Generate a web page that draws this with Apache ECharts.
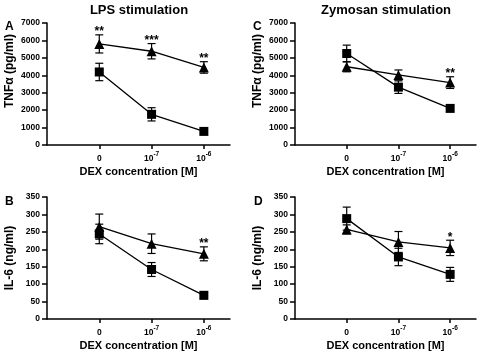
<!DOCTYPE html>
<html>
<head>
<meta charset="utf-8">
<script src="https://cdn.jsdelivr.net/npm/echarts@6/dist/echarts.min.js"></script>
<style>
  html, body { margin: 0; padding: 0; background: #fff; }
  #main { width: 478px; height: 354px; }
</style>
</head>
<body>
<div id="main"></div>
<script>
// x positions 0,1,2 = DEX 0, 10^-7, 10^-6 M
var dexPos = [0, 1, 2];
var dexExp = ['', '-7', '-6'];

// A: LPS, TNFa (pg/ml)
var lpsTnfTri = [5800, 5380, 4450];
var lpsTnfTriErr = [520, 440, 330];
var lpsTnfSq = [4190, 1760, 780];
var lpsTnfSqErr = [500, 380, 100];
var lpsTnfStars = ['**', '***', '**'];

// C: Zymosan, TNFa (pg/ml)
var zymTnfTri = [4490, 4020, 3580];
var zymTnfTriErr = [290, 285, 335];
var zymTnfSq = [5250, 3320, 2100];
var zymTnfSqErr = [480, 360, 150];
var zymTnfStars = ['', '', '**'];

// B: LPS, IL-6 (ng/ml)
var lpsIl6Tri = [265, 216, 187];
var lpsIl6TriErr = [36, 28, 20];
var lpsIl6Sq = [244, 142, 68];
var lpsIl6SqErr = [28, 20, 10];
var lpsIl6Stars = ['', '', '**'];

// D: Zymosan, IL-6 (ng/ml)
var zymIl6Tri = [257, 221, 204];
var zymIl6TriErr = [13, 30, 22];
var zymIl6Sq = [288, 178, 128];
var zymIl6SqErr = [33, 25, 20];
var zymIl6Stars = ['', '', '*'];

var font = 'Liberation Sans, Arial, sans-serif';
var chart = echarts.init(document.getElementById('main'));

var grids = [
    {left: 47, top: 23, width: 183, height: 122},
    {left: 295, top: 23, width: 181, height: 122},
    {left: 47, top: 197, width: 183, height: 122},
    {left: 295, top: 197, width: 181, height: 122}
];

function xAxisFor(i) {
    return {
        type: 'value', gridIndex: i, min: -1, max: 2.5,
        name: 'DEX concentration [M]', nameLocation: 'middle', nameGap: 21,
        nameTextStyle: {fontFamily: font, fontWeight: 'bold', fontSize: 11, color: '#000'},
        axisLine: {onZero: false, lineStyle: {color: '#000', width: 1.5}},
        axisTick: {customValues: dexPos, length: 4, lineStyle: {color: '#000', width: 1.5}},
        axisLabel: {
            customValues: dexPos, margin: 6, color: '#000',
            formatter: function (v) {
                var k = Math.round(v);
                return k === 0 ? '{b|0}' : '{b|10}{s|' + dexExp[k] + '}';
            },
            rich: {
                b: {fontFamily: font, fontWeight: 'bold', fontSize: 8.5, lineHeight: 12, verticalAlign: 'bottom', color: '#000'},
                s: {fontFamily: font, fontWeight: 'bold', fontSize: 6.5, lineHeight: 6, verticalAlign: 'top', color: '#000'}
            }
        },
        splitLine: {show: false}
    };
}

function yAxisFor(i, max, step, name, shift) {
    return {
        type: 'value', gridIndex: i, min: 0, max: max, interval: step,
        name: name, nameLocation: 'middle', nameGap: 31,
        nameTextStyle: {fontFamily: font, fontWeight: 'bold', fontSize: 12, color: '#000', padding: [0, 0, 0, shift]},
        axisLine: {show: true, onZero: false, lineStyle: {color: '#000', width: 1.5}},
        axisTick: {show: true, length: 5, lineStyle: {color: '#000', width: 1.5}},
        axisLabel: {
            fontFamily: font, fontWeight: 'bold', fontSize: 8.5, color: '#000', margin: 7,
            formatter: function (v) { return String(v); }
        },
        splitLine: {show: false}
    };
}

function pts(vals) {
    return vals.map(function (v, k) { return [dexPos[k], v]; });
}

function lineSeries(i, vals, sym, size) {
    return {
        type: 'line', xAxisIndex: i, yAxisIndex: i, data: pts(vals),
        symbol: sym, symbolSize: size, z: 3,
        itemStyle: {color: '#000'}, lineStyle: {color: '#000', width: 1.3}
    };
}

function errSeries(i, vals, errs) {
    return {
        type: 'custom', xAxisIndex: i, yAxisIndex: i, z: 2,
        data: vals.map(function (v, k) { return [dexPos[k], v - errs[k], v + errs[k]]; }),
        renderItem: function (params, api) {
            var lo = api.coord([api.value(0), api.value(1)]);
            var hi = api.coord([api.value(0), api.value(2)]);
            var w = 4;
            var st = {stroke: '#000', lineWidth: 1.2};
            return {type: 'group', children: [
                {type: 'line', shape: {x1: lo[0], y1: lo[1], x2: hi[0], y2: hi[1]}, style: st},
                {type: 'line', shape: {x1: lo[0] - w, y1: lo[1], x2: lo[0] + w, y2: lo[1]}, style: st},
                {type: 'line', shape: {x1: hi[0] - w, y1: hi[1], x2: hi[0] + w, y2: hi[1]}, style: st}
            ]};
        }
    };
}

function starSeries(i, vals, errs, stars) {
    return {
        type: 'custom', xAxisIndex: i, yAxisIndex: i, z: 4,
        data: vals.map(function (v, k) { return [dexPos[k], v + errs[k], stars[k]]; }),
        renderItem: function (params, api) {
            var p = api.coord([api.value(0), api.value(1)]);
            return {type: 'text', style: {
                x: p[0], y: p[1] + 3, text: stars[params.dataIndex],
                textAlign: 'center', textVerticalAlign: 'bottom',
                font: 'bold 12px ' + font, fill: '#000'
            }};
        }
    };
}

var panels = [
    {tri: lpsTnfTri, triErr: lpsTnfTriErr, sq: lpsTnfSq, sqErr: lpsTnfSqErr, stars: lpsTnfStars},
    {tri: zymTnfTri, triErr: zymTnfTriErr, sq: zymTnfSq, sqErr: zymTnfSqErr, stars: zymTnfStars},
    {tri: lpsIl6Tri, triErr: lpsIl6TriErr, sq: lpsIl6Sq, sqErr: lpsIl6SqErr, stars: lpsIl6Stars},
    {tri: zymIl6Tri, triErr: zymIl6TriErr, sq: zymIl6Sq, sqErr: zymIl6SqErr, stars: zymIl6Stars}
];

var series = [];
panels.forEach(function (p, i) {
    series.push(errSeries(i, p.sq, p.sqErr));
    series.push(errSeries(i, p.tri, p.triErr));
    series.push(lineSeries(i, p.sq, 'rect', 9));
    series.push(lineSeries(i, p.tri, 'triangle', 10));
    series.push(starSeries(i, p.tri, p.triErr, p.stars));
});

var option = {
    animation: false,
    backgroundColor: '#fff',
    title: [
        {text: 'LPS stimulation', left: 134, top: -1, textAlign: 'center',
         textStyle: {fontFamily: font, fontWeight: 'bold', fontSize: 13, color: '#000'}},
        {text: 'Zymosan stimulation', left: 381, top: -1, textAlign: 'center',
         textStyle: {fontFamily: font, fontWeight: 'bold', fontSize: 13, color: '#000'}},
        {text: 'A', left: 0, top: 16, textStyle: {fontFamily: font, fontWeight: 'bold', fontSize: 12, color: '#000'}},
        {text: 'C', left: 248, top: 16, textStyle: {fontFamily: font, fontWeight: 'bold', fontSize: 12, color: '#000'}},
        {text: 'B', left: 0, top: 191, textStyle: {fontFamily: font, fontWeight: 'bold', fontSize: 12, color: '#000'}},
        {text: 'D', left: 249, top: 191, textStyle: {fontFamily: font, fontWeight: 'bold', fontSize: 12, color: '#000'}}
    ],
    grid: grids,
    xAxis: [xAxisFor(0), xAxisFor(1), xAxisFor(2), xAxisFor(3)],
    yAxis: [
        yAxisFor(0, 7000, 1000, 'TNFα (pg/ml)', 26),
        yAxisFor(1, 7000, 1000, 'TNFα (pg/ml)', 26),
        yAxisFor(2, 350, 50, 'IL-6 (ng/ml)', 0),
        yAxisFor(3, 350, 50, 'IL-6 (ng/ml)', 0)
    ],
    series: series
};
chart.setOption(option);
</script>
</body>
</html>
